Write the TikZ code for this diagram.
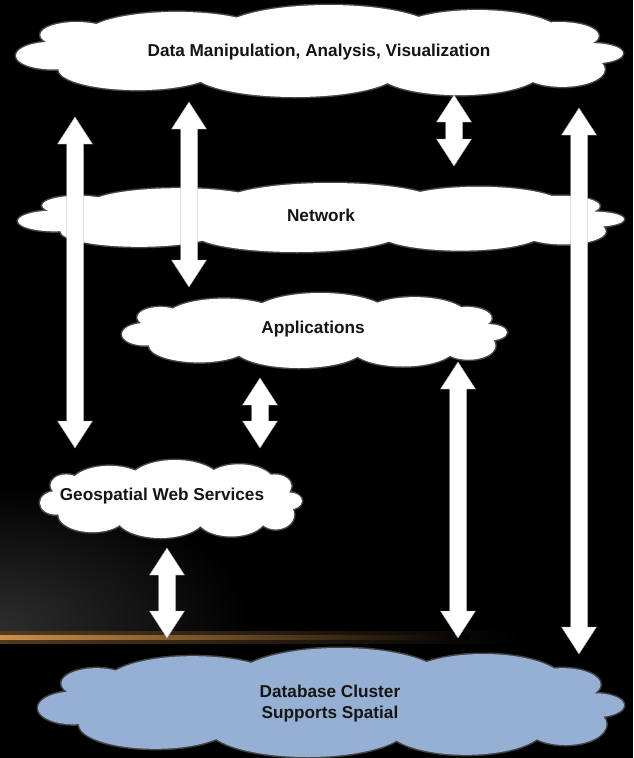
\documentclass[tikz,border=0pt]{standalone}
\usepackage{fontspec}
\setmainfont{Liberation Sans}
\usetikzlibrary{calc}

\definecolor{dbblue}{HTML}{95B0D2}
\definecolor{cloudedge}{HTML}{444444}
\definecolor{glowor}{RGB}{205,145,75}
\definecolor{txt}{HTML}{151515}

% puffs of a cloud, in a unit box [-1,1]x[-1,1], v downwards
\newcommand{\puffs}{%
  (0,0) ellipse [x radius=0.8, y radius=0.62]
  (0.72,0.02) ellipse [x radius=0.2, y radius=0.36]
  (-0.72,0.0) ellipse [x radius=0.2, y radius=0.36]
  (-0.47,-0.35) ellipse [x radius=0.30, y radius=0.50]
  (0.03,-0.40) ellipse [x radius=0.36, y radius=0.60]
  (0.52,-0.35) ellipse [x radius=0.28, y radius=0.54]
  (0.79,-0.33) ellipse [x radius=0.13, y radius=0.30]
  (0.90,0.05) ellipse [x radius=0.10, y radius=0.22]
  (0.80,0.40) ellipse [x radius=0.14, y radius=0.38]
  (0.46,0.45) ellipse [x radius=0.27, y radius=0.51]
  (-0.08,0.45) ellipse [x radius=0.34, y radius=0.55]
  (-0.60,0.40) ellipse [x radius=0.26, y radius=0.45]
  (-0.88,0.10) ellipse [x radius=0.12, y radius=0.30]
  (-0.80,-0.35) ellipse [x radius=0.12, y radius=0.28]}

% #1 centre, #2 half width, #3 half height, #4 fill
\newcommand{\cloudat}[4]{%
  \begin{scope}[shift={#1}, x=#2pt, y=-#3pt]
    \path[draw=cloudedge, line width=3pt] \puffs;
    \path[fill=#4] \puffs;
  \end{scope}}

\newcommand{\vbiarrow}[2]{%
  \path[biarrow] let \p1=(#1), \p2=(#2) in
    (\x1,\y1) -- (\x1+17.5pt,\y1-27pt) -- (\x1+8.5pt,\y1-27pt)
    -- (\x1+8.5pt,\y2+27pt) -- (\x1+17.5pt,\y2+27pt) -- (\x1,\y2)
    -- (\x1-17.5pt,\y2+27pt) -- (\x1-8.5pt,\y2+27pt)
    -- (\x1-8.5pt,\y1-27pt) -- (\x1-17.5pt,\y1-27pt) -- cycle;}

\begin{document}
\begin{tikzpicture}[x=1pt,y=-1pt,
  cloudtext/.style={inner sep=0pt, font=\bfseries\fontsize{17.2}{21}\selectfont,
    text=txt, align=center},
  biarrow/.style={fill=white, draw=gray!70, line width=0.4pt}]

\fill[black] (0,0) rectangle (633,758);
\useasboundingbox (0,0) rectangle (633,758);

% glow at the left
\begin{scope}
  \clip (0,470) rectangle (633,636);
  \shade[inner color=gray!35!black, outer color=black] (0,625) ellipse [x radius=250, y radius=140];
\end{scope}
\shade[left color=glowor!40!black, right color=black] (0,631) rectangle (520,643);
\shade[left color=glowor, right color=black] (0,635) rectangle (470,639);

% clouds
\cloudat{(319.5,51)}{303.5}{46}{white}
\node[cloudtext] (dmav) at (319,52) {Data Manipulation, Analysis, Visualization};
\cloudat{(321,217.5)}{303}{34.5}{white}
\node[cloudtext] (net) at (321,215) {Network};
\cloudat{(314.5,330.5)}{192.5}{37.5}{white}
\node[cloudtext] (app) at (313,329) {Applications};
\cloudat{(171,499)}{131}{39}{white}
\node[cloudtext] (geo) at (162,496) {Geospatial Web Services};
\cloudat{(331,702.5)}{293}{54.5}{dbblue}
\node[cloudtext] (db) at (330,704) {Database Cluster\\Supports Spatial};

% arrow end points
\coordinate (a1t) at (75,117);  \coordinate (a1b) at (75,448);
\coordinate (a2t) at (189,102); \coordinate (a2b) at (189,287);
\coordinate (a3t) at (454,95);  \coordinate (a3b) at (454,166);
\coordinate (a4t) at (579,108); \coordinate (a4b) at (579,654);
\coordinate (a5t) at (260,378); \coordinate (a5b) at (260,448);
\coordinate (a6t) at (458,362); \coordinate (a6b) at (458,638);
\coordinate (a7t) at (167,548); \coordinate (a7b) at (167,638);

\vbiarrow{a1t}{a1b}
\vbiarrow{a2t}{a2b}
\vbiarrow{a3t}{a3b}
\vbiarrow{a4t}{a4b}
\vbiarrow{a5t}{a5b}
\vbiarrow{a6t}{a6b}
\vbiarrow{a7t}{a7b}
\end{tikzpicture}
\end{document}
